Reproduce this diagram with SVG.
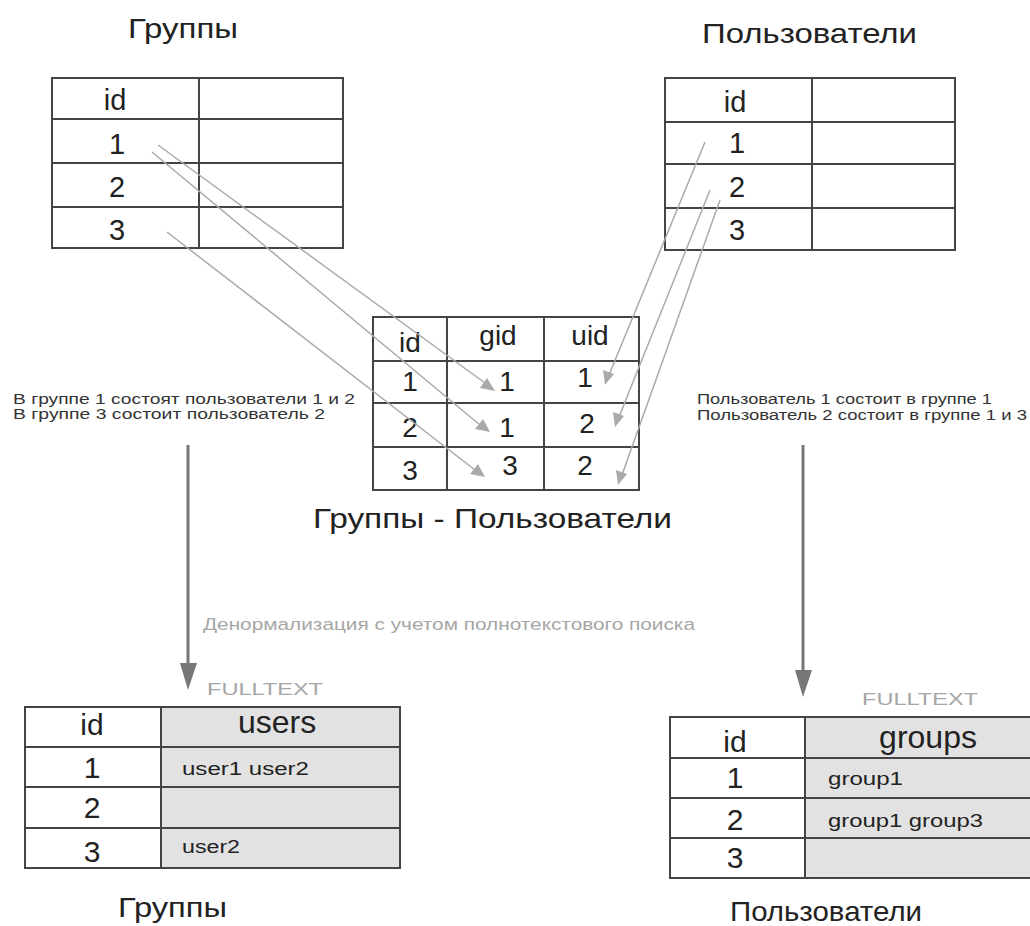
<svg xmlns="http://www.w3.org/2000/svg" width="1030" height="926" viewBox="0 0 1030 926">
<style>
text{font-family:"Liberation Sans",Arial,sans-serif;fill:#222}
.cell{fill:#fff;stroke:#444;stroke-width:2}
.ft{fill:#e2e2e2;stroke:#444;stroke-width:2}
.ln{stroke:#444;stroke-width:2;fill:none}
.big{font-size:29px;text-anchor:middle}
.mid{font-size:28px;text-anchor:middle}
.title{font-size:28px}
.lbl{font-size:14px;fill:#333}
.gray{fill:#a6a6a6}
.small{font-size:17px}
.conn{stroke:#aaa;stroke-width:1.5;fill:none}
.head{fill:#aaa}
.varr{stroke:#777;stroke-width:3;fill:none}
.vhead{fill:#777}
</style>

<g id="groups-top">
<text class="title" x="128" y="38" textLength="110" lengthAdjust="spacingAndGlyphs">Группы</text>
<rect class="cell" x="52" y="78" width="291" height="170"/>
<path class="ln" d="M199 78V248M52 119H343M52 163H343M52 207H343"/>
<text class="big" x="115" y="110">id</text>
<text class="big" x="117" y="154">1</text>
<text class="big" x="117" y="197">2</text>
<text class="big" x="117" y="240">3</text>
</g>

<g id="users-top">
<text class="title" x="702" y="43" textLength="215" lengthAdjust="spacingAndGlyphs">Пользователи</text>
<rect class="cell" x="665" y="78" width="290" height="172"/>
<path class="ln" d="M812 78V250M665 122H955M665 164H955M665 208H955"/>
<text class="big" x="735" y="112">id</text>
<text class="big" x="737" y="153">1</text>
<text class="big" x="737" y="197">2</text>
<text class="big" x="737" y="240">3</text>
</g>

<g id="groups-users">
<rect class="cell" x="373" y="317" width="266" height="173"/>
<path class="ln" d="M447 317V490M544 317V490M373 361H639M373 403H639M373 447H639"/>
<text class="mid" x="410" y="352">id</text>
<text class="mid" x="498" y="345">gid</text>
<text class="mid" x="590" y="345">uid</text>
<text class="mid" x="410" y="391">1</text>
<text class="mid" x="507" y="391">1</text>
<text class="mid" x="585" y="387">1</text>
<text class="mid" x="410" y="437">2</text>
<text class="mid" x="507" y="437">1</text>
<text class="mid" x="587" y="433">2</text>
<text class="mid" x="410" y="480">3</text>
<text class="mid" x="510" y="475">3</text>
<text class="mid" x="585" y="475">2</text>
<text class="title" x="313" y="528" textLength="359" lengthAdjust="spacingAndGlyphs">Группы - Пользователи</text>
</g>

<g id="note-left">
<text class="lbl" x="13" y="404" textLength="342" lengthAdjust="spacingAndGlyphs">В группе 1 состоят пользователи 1 и 2</text>
<text class="lbl" x="13" y="419" textLength="312" lengthAdjust="spacingAndGlyphs">В группе 3 состоит пользователь 2</text>
</g>

<g id="note-right">
<text class="lbl" x="697" y="404" textLength="295" lengthAdjust="spacingAndGlyphs">Пользователь 1 состоит в группе 1</text>
<text class="lbl" x="697" y="420" textLength="330" lengthAdjust="spacingAndGlyphs">Пользователь 2 состоит в группе 1 и 3</text>
</g>

<g id="denorm-label">
<text class="gray" style="font-size:17px" x="203" y="630" textLength="492" lengthAdjust="spacingAndGlyphs">Денормализация с учетом полнотекстового поиска</text>
</g>

<g id="groups-bottom">
<text class="gray small" x="207" y="695" textLength="116" lengthAdjust="spacingAndGlyphs">FULLTEXT</text>
<rect class="cell" x="25" y="707" width="136" height="161"/>
<rect class="ft" x="161" y="707" width="239" height="161"/>
<path class="ln" d="M25 747H400M25 787H400M25 828H400"/>
<text class="big" style="font-size:30px" x="92" y="735">id</text>
<text style="font-size:32px;text-anchor:middle" x="277" y="733">users</text>
<text class="big" style="font-size:30px" x="92" y="778">1</text>
<text class="big" style="font-size:30px" x="92" y="818">2</text>
<text class="big" style="font-size:30px" x="92" y="862">3</text>
<text style="font-size:18px" x="182" y="775" textLength="127" lengthAdjust="spacingAndGlyphs">user1 user2</text>
<text style="font-size:18px" x="182" y="853" textLength="58" lengthAdjust="spacingAndGlyphs">user2</text>
<text class="title" x="118" y="917" textLength="109" lengthAdjust="spacingAndGlyphs">Группы</text>
</g>

<g id="users-bottom">
<text class="gray small" x="862" y="705" textLength="116" lengthAdjust="spacingAndGlyphs">FULLTEXT</text>
<rect class="cell" x="670" y="717" width="135" height="161"/>
<rect class="ft" x="805" y="717" width="240" height="161"/>
<path class="ln" d="M670 758H1030M670 798H1030M670 838H1030"/>
<text class="big" style="font-size:30px" x="735" y="752">id</text>
<text style="font-size:32px;text-anchor:middle" x="928" y="748">groups</text>
<text class="big" style="font-size:30px" x="735" y="788">1</text>
<text class="big" style="font-size:30px" x="735" y="830">2</text>
<text class="big" style="font-size:30px" x="735" y="868">3</text>
<text style="font-size:18px" x="828" y="785" textLength="75" lengthAdjust="spacingAndGlyphs">group1</text>
<text style="font-size:18px" x="828" y="827" textLength="155" lengthAdjust="spacingAndGlyphs">group1 group3</text>
<text class="title" x="730" y="921" textLength="192" lengthAdjust="spacingAndGlyphs">Пользователи</text>
</g>

<g id="connectors">
<path class="conn" d="M158 145L485 383"/>
<polygon class="head" points="495,391 480,388 487,378"/>
<path class="conn" d="M152 152L480 425"/>
<polygon class="head" points="490,432 475,429 483,419"/>
<path class="conn" d="M167 232L475 470"/>
<polygon class="head" points="485,477 470,474 478,464"/>
<path class="conn" d="M705 142L609 375"/>
<polygon class="head" points="605,385 603,370 614,374"/>
<path class="conn" d="M710 190L619 417"/>
<polygon class="head" points="615,427 613,412 624,416"/>
<path class="conn" d="M720 200L622 475"/>
<polygon class="head" points="618,485 616,470 627,474"/>
<path class="varr" d="M188 445V666"/>
<polygon class="vhead" points="180,663 197,663 188,690"/>
<path class="varr" d="M803 445V673"/>
<polygon class="vhead" points="795,670 812,670 803,697"/>
</g>
</svg>
